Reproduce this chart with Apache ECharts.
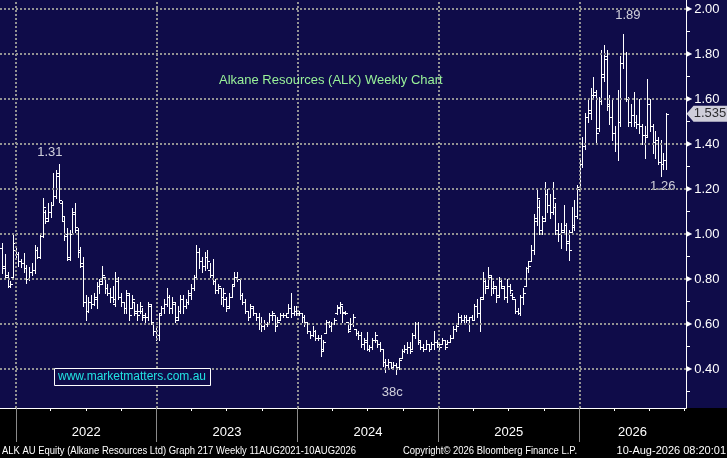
<!DOCTYPE html>
<html><head><meta charset="utf-8">
<script src="https://cdn.jsdelivr.net/npm/echarts@6/dist/echarts.min.js"></script>
<style>html,body{margin:0;padding:0;background:#000;}#c{width:727px;height:458px;}</style>
</head><body><div id="c"></div>
<script>
// Weekly bars (week-ending Fridays) starting 26 Nov 2021
const firstWeek = '2021-11-26';
const opens = [
0.94,0.86,0.81,0.77,0.81,0.93,0.91,0.88,0.87,0.85,
0.80,0.83,0.84,0.93,0.90,0.99,1.10,1.07,1.10,1.13,
1.17,1.27,1.14,1.06,1.00,0.89,1.00,1.10,1.02,0.92,
0.86,0.70,0.66,0.70,0.69,0.71,0.77,0.79,0.81,0.76,
0.74,0.72,0.69,0.79,0.72,0.70,0.67,0.73,0.67,0.70,
0.66,0.66,0.66,0.64,0.63,0.68,0.60,0.57,0.55,0.65,
0.67,0.69,0.72,0.67,0.69,0.63,0.66,0.71,0.68,0.70,
0.73,0.76,0.81,0.92,0.88,0.86,0.90,0.84,0.82,0.79,
0.75,0.76,0.72,0.71,0.68,0.72,0.78,0.81,0.80,0.73,
0.70,0.66,0.63,0.67,0.65,0.63,0.60,0.59,0.60,0.60,
0.64,0.64,0.60,0.62,0.64,0.64,0.65,0.67,0.65,0.66,
0.65,0.65,0.63,0.61,0.57,0.55,0.57,0.54,0.54,0.49,
0.56,0.61,0.59,0.60,0.65,0.67,0.68,0.655,0.61,0.58,
0.60,0.58,0.56,0.55,0.51,0.53,0.49,0.50,0.53,0.53,
0.51,0.49,0.43,0.42,0.43,0.41,0.42,0.41,0.45,0.48,
0.49,0.50,0.49,0.55,0.60,0.52,0.50,0.49,0.51,0.49,
0.51,0.52,0.51,0.51,0.53,0.51,0.52,0.54,0.58,0.60,
0.63,0.62,0.63,0.62,0.63,0.62,0.68,0.65,0.72,0.79,
0.77,0.81,0.76,0.76,0.73,0.79,0.76,0.72,0.77,0.73,
0.71,0.66,0.65,0.72,0.77,0.85,0.88,0.93,1.07,1.12,
1.02,1.07,1.18,1.13,1.10,1.12,1.02,1.00,1.01,1.04,
0.97,1.01,1.03,1.08,1.21,1.31,1.39,1.52,1.55,1.62,
1.62,1.47,1.59,1.70,1.79,1.58,1.52,1.45,1.40,1.50,
1.76,1.80,1.60,1.50,1.53,1.50,1.49,1.48,1.44,1.44,
1.58,1.48,1.41,1.42,1.32,1.31,1.33];
const highs = [
0.96,0.91,0.83,0.79,0.995,0.936,0.92,0.89,0.914,0.862,
0.855,0.87,0.95,0.944,1.003,1.158,1.107,1.136,1.144,1.27,
1.284,1.31,1.145,1.077,1.025,1.018,1.114,1.136,1.025,0.944,
0.90,0.73,0.72,0.73,0.736,0.788,0.80,0.86,0.81,0.78,
0.76,0.77,0.83,0.81,0.74,0.70,0.75,0.74,0.73,0.70,
0.69,0.70,0.67,0.65,0.70,0.69,0.61,0.59,0.65,0.68,
0.71,0.76,0.73,0.72,0.70,0.68,0.73,0.73,0.71,0.75,
0.78,0.82,0.95,0.94,0.90,0.92,0.93,0.87,0.89,0.80,
0.78,0.76,0.76,0.72,0.74,0.78,0.83,0.83,0.80,0.74,
0.71,0.66,0.69,0.68,0.65,0.65,0.63,0.62,0.61,0.65,
0.66,0.64,0.63,0.65,0.65,0.65,0.69,0.74,0.68,0.68,
0.66,0.65,0.64,0.61,0.57,0.59,0.575,0.55,0.55,0.53,
0.62,0.615,0.61,0.625,0.685,0.70,0.68,0.66,0.61,0.625,
0.645,0.58,0.57,0.565,0.54,0.565,0.505,0.54,0.565,0.53,
0.52,0.49,0.445,0.445,0.43,0.43,0.425,0.45,0.49,0.505,
0.52,0.52,0.56,0.61,0.61,0.53,0.51,0.53,0.51,0.52,
0.57,0.53,0.52,0.54,0.53,0.53,0.55,0.59,0.60,0.65,
0.64,0.64,0.64,0.63,0.64,0.69,0.71,0.72,0.83,0.80,
0.855,0.82,0.79,0.77,0.81,0.80,0.77,0.80,0.78,0.74,
0.71,0.67,0.73,0.76,0.855,0.88,0.95,1.09,1.20,1.15,
1.08,1.23,1.20,1.18,1.23,1.14,1.05,1.05,1.13,1.05,
1.02,1.12,1.15,1.22,1.33,1.43,1.54,1.60,1.65,1.70,
1.64,1.61,1.82,1.84,1.82,1.62,1.60,1.48,1.64,1.79,
1.89,1.81,1.61,1.58,1.63,1.53,1.60,1.49,1.48,1.69,
1.60,1.49,1.46,1.43,1.42,1.36,1.54];
const lows = [
0.825,0.81,0.766,0.766,0.80,0.89,0.86,0.855,0.833,0.781,
0.796,0.818,0.825,0.892,0.892,0.988,1.047,1.06,1.077,1.129,
1.159,1.143,1.06,0.973,0.884,0.884,1.0,1.01,0.899,0.855,
0.68,0.618,0.655,0.67,0.685,0.67,0.736,0.78,0.74,0.73,
0.70,0.70,0.68,0.71,0.68,0.65,0.65,0.62,0.67,0.64,
0.62,0.65,0.62,0.61,0.62,0.60,0.55,0.53,0.53,0.64,
0.65,0.68,0.65,0.65,0.61,0.62,0.65,0.65,0.67,0.69,
0.71,0.75,0.80,0.85,0.83,0.84,0.85,0.81,0.78,0.74,
0.74,0.69,0.68,0.66,0.67,0.72,0.77,0.79,0.71,0.69,
0.65,0.62,0.63,0.64,0.62,0.58,0.57,0.58,0.59,0.60,
0.62,0.57,0.59,0.62,0.63,0.63,0.65,0.63,0.64,0.64,
0.64,0.61,0.59,0.56,0.54,0.545,0.53,0.53,0.46,0.485,
0.56,0.585,0.57,0.60,0.645,0.65,0.61,0.645,0.565,0.58,
0.59,0.55,0.535,0.50,0.49,0.485,0.48,0.49,0.52,0.50,
0.48,0.415,0.385,0.405,0.405,0.40,0.38,0.40,0.45,0.475,
0.47,0.47,0.49,0.54,0.51,0.49,0.48,0.49,0.48,0.49,
0.49,0.50,0.49,0.51,0.49,0.51,0.52,0.54,0.57,0.60,
0.61,0.61,0.61,0.57,0.62,0.62,0.63,0.57,0.71,0.74,
0.76,0.73,0.74,0.70,0.72,0.76,0.71,0.70,0.74,0.71,
0.65,0.645,0.64,0.69,0.77,0.83,0.88,0.91,1.04,1.00,
1.00,1.06,1.10,1.07,1.09,1.00,0.97,0.94,1.00,0.93,
0.885,1.00,1.02,1.07,1.20,1.30,1.38,1.50,1.51,1.60,
1.40,1.46,1.58,1.68,1.55,1.49,1.42,1.37,1.33,1.48,
1.74,1.59,1.48,1.48,1.48,1.47,1.45,1.40,1.34,1.43,
1.46,1.36,1.34,1.31,1.26,1.29,1.29];
const closes = [
0.85,0.82,0.77,0.78,0.96,0.91,0.88,0.87,0.85,0.80,
0.83,0.84,0.93,0.90,0.99,1.12,1.06,1.10,1.13,1.17,
1.26,1.15,1.08,0.99,0.90,1.00,1.09,1.03,0.93,0.87,
0.70,0.66,0.70,0.69,0.72,0.77,0.78,0.82,0.76,0.74,
0.72,0.71,0.80,0.72,0.70,0.67,0.74,0.64,0.71,0.65,
0.64,0.68,0.63,0.63,0.69,0.61,0.57,0.55,0.64,0.67,
0.69,0.72,0.67,0.70,0.62,0.66,0.71,0.68,0.70,0.74,
0.76,0.81,0.92,0.88,0.86,0.90,0.88,0.82,0.79,0.75,
0.77,0.72,0.74,0.67,0.72,0.77,0.81,0.80,0.73,0.70,
0.66,0.63,0.68,0.65,0.63,0.60,0.59,0.60,0.60,0.64,
0.65,0.59,0.61,0.64,0.64,0.63,0.67,0.65,0.66,0.65,
0.65,0.63,0.61,0.57,0.55,0.57,0.54,0.54,0.48,0.52,
0.61,0.59,0.60,0.62,0.675,0.69,0.65,0.65,0.57,0.60,
0.63,0.56,0.55,0.51,0.52,0.49,0.50,0.53,0.55,0.51,
0.49,0.43,0.42,0.43,0.41,0.42,0.41,0.44,0.48,0.49,
0.50,0.48,0.55,0.60,0.53,0.50,0.49,0.51,0.49,0.51,
0.52,0.51,0.50,0.53,0.50,0.52,0.54,0.58,0.59,0.63,
0.62,0.63,0.62,0.63,0.62,0.68,0.65,0.71,0.80,0.76,
0.82,0.76,0.77,0.72,0.79,0.77,0.72,0.77,0.75,0.72,
0.66,0.65,0.72,0.74,0.85,0.86,0.93,1.06,1.16,1.02,
1.06,1.18,1.13,1.10,1.16,1.02,1.00,1.02,1.04,0.96,
0.93,1.04,1.08,1.20,1.31,1.39,1.52,1.54,1.62,1.63,
1.45,1.59,1.71,1.78,1.57,1.52,1.45,1.40,1.50,1.76,
1.80,1.60,1.50,1.53,1.50,1.49,1.48,1.44,1.43,1.60,
1.48,1.41,1.42,1.32,1.31,1.33,1.535];

const yearStarts = ['2022-01-01','2023-01-01','2024-01-01','2025-01-01','2026-01-01'];
const yearLabelAt = ['2022-07-02','2023-07-02','2024-07-02','2025-07-02','2026-05-19'];
const quarterTicks = ['2022-04-01','2022-07-01','2022-10-01','2023-04-01','2023-07-01','2023-10-01',
  '2024-04-01','2024-07-01','2024-10-01','2025-04-01','2025-07-01','2025-10-01','2026-04-01','2026-07-01','2026-10-01'];
const priceTicks = [0.4,0.6,0.8,1.0,1.2,1.4,1.6,1.8,2.0];
const minorPriceTicks = [0.3,0.5,0.7,0.9,1.1,1.3,1.5,1.7,1.9];
const annotTexts = ['1.31','1.89','1.26','38c'];
const annotBar = [21,230,244,146];
const annotValue = [1.31,1.89,1.26,0.38];
const lastPrice = 1.535;
const footerTexts = ['ALK AU Equity (Alkane Resources Ltd) Graph 217 Weekly 11AUG2021-10AUG2026',
  'Copyright\u00a9 2026 Bloomberg Finance L.P.', '10-Aug-2026 08:20:01'];

const NAVY = '#0f0c49';
const FONT = '"Liberation Sans", Arial, sans-serif';
function day(s){const p=s.split('-').map(Number);return Date.UTC(p[0],p[1]-1,p[2]);}
const t0 = day(firstWeek);
const WEEK = 7*86400000;
const dates = opens.map((_,i)=>t0+i*WEEK);
const ohlc = dates.map((t,i)=>[t,opens[i],highs[i],lows[i],closes[i]]);
const xMin = Date.UTC(2021,10,20,12);
const xMax = Date.UTC(2026,9,4,14);

const annotStyle = [[-9,-12],[5,-18],[2,11],[-4,19]];
const annotData = annotTexts.map((txt,k)=>({
  value:[dates[annotBar[k]], annotValue[k]],
  label:{show:true, formatter:txt, position:'inside', offset:annotStyle[k], color:'#fff', fontSize:13, fontFamily:FONT}
}));

const footStyle = [{x:2,sx:0.86,align:'left'},{x:403,sx:0.86,align:'left'},{x:726,sx:1,align:'right'}];
const footer = footerTexts.map((t,k)=>({
  type:'text', x:footStyle[k].x, y:451, scaleX:footStyle[k].sx, scaleY:1, silent:true,
  style:{text:t, fill:'#fff', font:'11px "Liberation Sans", Arial, sans-serif', align:footStyle[k].align, verticalAlign:'middle'}
}));

const chart = echarts.init(document.getElementById('c'), null, {renderer:'canvas'});
chart.setOption({
  animation:false,
  backgroundColor:{type:'linear',x:0,y:0,x2:0,y2:1,colorStops:[
    {offset:0,color:NAVY},{offset:408/458,color:NAVY},{offset:408/458+0.0001,color:'#000'},{offset:1,color:'#000'}]},
  grid:{left:0,right:41,top:0,bottom:50,outerBoundsMode:'none',containLabel:false},
  title:[
    {text:'Alkane Resources (ALK) Weekly Chart',left:219,top:74,padding:0,
      textStyle:{color:'#99f299',fontSize:13,fontWeight:'normal',fontFamily:FONT}},
    {text:'www.marketmatters.com.au',left:54,top:368,padding:[2,5,2,4],borderColor:'#fff',borderWidth:1,backgroundColor:NAVY,
      textStyle:{color:'#22e3e3',fontSize:12,fontWeight:'normal',fontFamily:FONT,lineHeight:14}}
  ],
  graphic:footer,
  xAxis:[
    {type:'value',min:xMin,max:xMax,position:'bottom',
      axisLine:{show:true,onZero:false,lineStyle:{color:'#fff',width:1}},
      axisTick:{show:true,customValues:yearStarts.map(day),length:34,lineStyle:{color:'#8a8a8a',width:1}},
      axisLabel:{show:true,customValues:yearLabelAt.map(day),margin:18,color:'#fff',fontSize:13,fontFamily:FONT,
        formatter:v=>String(new Date(v).getUTCFullYear())},
      splitLine:{show:false}},
    {type:'value',min:xMin,max:xMax,position:'bottom',gridIndex:0,
      axisLine:{show:false,onZero:false},
      axisTick:{show:true,customValues:quarterTicks.map(day),length:3,lineStyle:{color:'#fff',width:1}},
      axisLabel:{show:false},splitLine:{show:false}}
  ],
  yAxis:{type:'value',position:'right',min:0.2267,max:2.04,
    axisLine:{show:true,onZero:false,lineStyle:{color:'#fff',width:1}},
    axisTick:{show:true,customValues:minorPriceTicks,length:4,lineStyle:{color:'#fff',width:1}},
    axisLabel:{show:true,customValues:priceTicks,margin:0,
      formatter:v=>'{t|\u25B6}{v|'+v.toFixed(2)+'}',
      rich:{t:{color:'#fff',fontSize:8,fontFamily:'DejaVu Sans',padding:[0,2,0,0]},
            v:{color:'#fff',fontSize:13,fontFamily:FONT}}},
    splitLine:{show:false}},
  series:[
    {type:'scatter',name:'grid',xAxisIndex:0,yAxisIndex:0,z:1,silent:true,
      data:annotData,symbol:'circle',symbolSize:1,itemStyle:{color:'rgba(0,0,0,0)'},
      markLine:{silent:true,symbol:['none','none'],label:{show:false},
        lineStyle:{color:'#939393',width:2,type:[2,2]},
        data:priceTicks.map(v=>({yAxis:v})).concat(yearStarts.map(s=>({xAxis:day(s)})))}},
    {type:'custom',name:'ALK',xAxisIndex:0,yAxisIndex:0,z:3,clip:true,
      encode:{x:0,y:[1,2,3,4]},
      data:ohlc,
      renderItem:function(params,api){
        const t=api.value(0);
        const o=api.coord([t,api.value(1)]);
        const h=api.coord([t,api.value(2)]);
        const l=api.coord([t,api.value(3)]);
        const c=api.coord([t,api.value(4)]);
        const xr=Math.round(h[0]);
        const x=xr+0.5;
        const oy=Math.round(o[1])+0.5, cy=Math.round(c[1])+0.5;
        const st={stroke:'#fff',lineWidth:1};
        return {type:'group',children:[
          {type:'line',shape:{x1:x,y1:Math.round(h[1]),x2:x,y2:Math.round(l[1])+1},style:st},
          {type:'line',shape:{x1:xr-2,y1:oy,x2:xr,y2:oy},style:st},
          {type:'line',shape:{x1:xr+1,y1:cy,x2:xr+3,y2:cy},style:st}
        ]};
      }},
    {type:'scatter',name:'last',xAxisIndex:0,yAxisIndex:0,z:5,clip:false,silent:true,
      data:[[xMax,lastPrice]],
      symbol:'path://M0,8 L7,0 L41,0 L41,16 L7,16 Z',symbolSize:[41,16],symbolKeepAspect:false,symbolOffset:[21,0],
      itemStyle:{color:'#fff'},
      label:{show:true,position:'inside',formatter:'1.535',color:'#000',fontSize:13,fontFamily:FONT,offset:[3,0]}}
  ]
});
</script></body></html>
